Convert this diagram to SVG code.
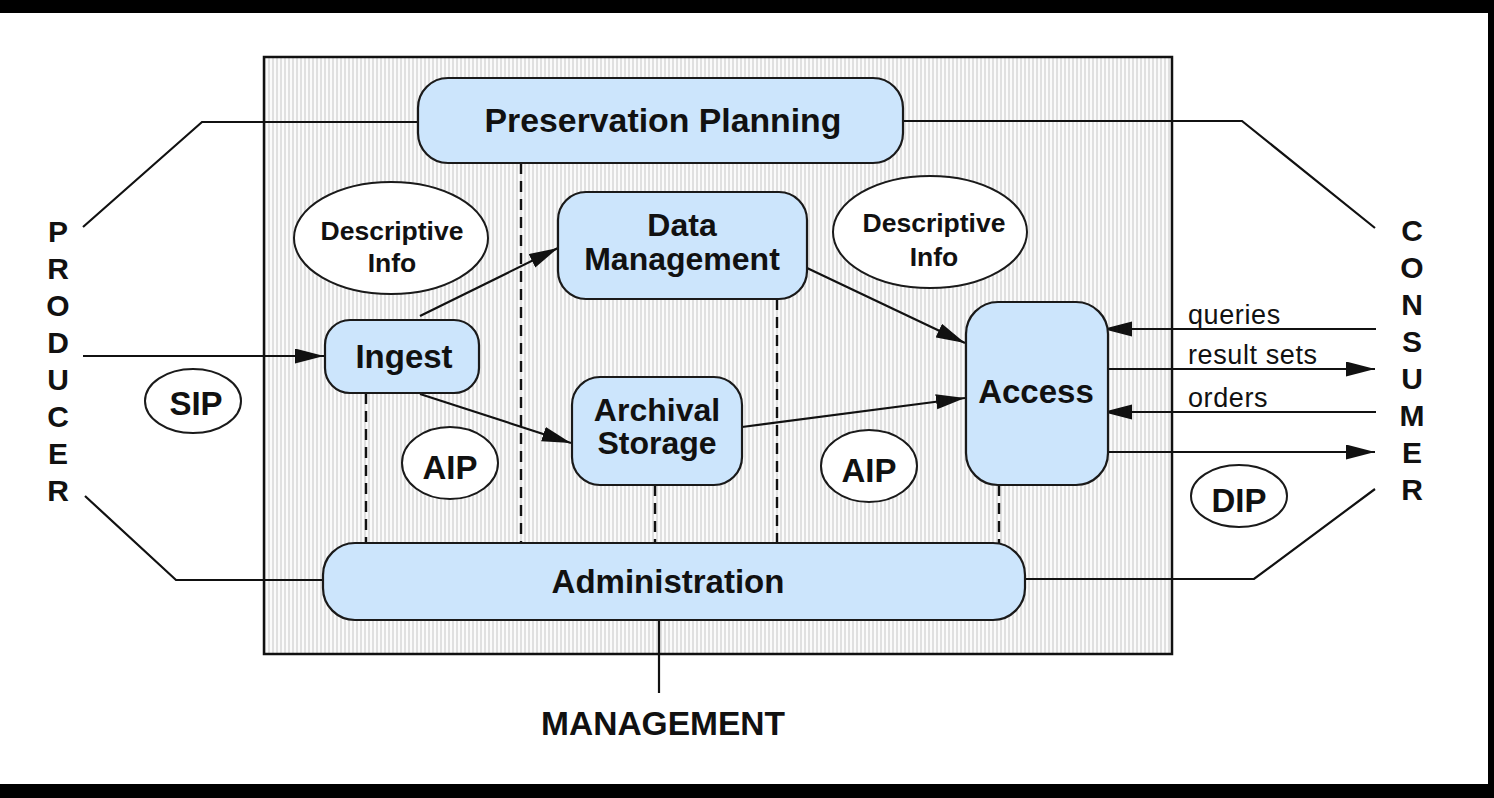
<svg xmlns="http://www.w3.org/2000/svg" width="1494" height="798" viewBox="0 0 1494 798">
<style>
.box{fill:#cce5fc;stroke:#1a1a1a;stroke-width:2.2}
.oval{fill:#ffffff;stroke:#1a1a1a;stroke-width:2}
.t{font-family:"Liberation Sans",Arial,sans-serif;font-weight:bold;fill:#111;text-anchor:middle}
.big{font-size:33px}
.mid{font-size:32px}
.small{font-size:26.5px}
.letter{font-size:30px}
.lab{font-family:"Liberation Sans",Arial,sans-serif;font-size:27px;fill:#111;letter-spacing:0.6px}
.ln{fill:none;stroke:#111;stroke-width:2.2}
.dash{fill:none;stroke:#111;stroke-width:2.4;stroke-dasharray:11 7}
</style>
<defs>
<pattern id="stripes" patternUnits="userSpaceOnUse" width="4" height="10">
<rect width="4" height="10" fill="#fbfbfb"/>
<rect x="0" width="2" height="10" fill="#e0e0e0"/>
</pattern>
<marker id="ah" markerUnits="userSpaceOnUse" markerWidth="30" markerHeight="16" refX="29" refY="7.5" orient="auto">
<path d="M0,0 L29,7.5 L0,15 z" fill="#111"/>
</marker>
</defs>
<rect width="1494" height="798" fill="#ffffff"/>
<g id="frame">
<rect x="0" y="0" width="1494" height="13" fill="#000"/>
<rect x="0" y="784" width="1494" height="14" fill="#000"/>
<rect x="1488" y="0" width="6" height="798" fill="#000"/>
</g>
<g id="system">
<rect x="264" y="57" width="908" height="597" fill="url(#stripes)" stroke="#111" stroke-width="2.5"/>
</g>
<g id="connectors">
<polyline class="ln" points="83,227 202,122 418,122"/>
<polyline class="ln" points="85,496 176,580 323,580"/>
<polyline class="ln" points="903,121 1242,121 1375,228"/>
<polyline class="ln" points="1025,579 1254,579 1375,489"/>
<line class="ln" x1="659" y1="620" x2="659" y2="693"/>
<line class="ln" x1="83" y1="356" x2="324" y2="356" marker-end="url(#ah)"/>
<line class="ln" x1="420" y1="316" x2="558" y2="248" marker-end="url(#ah)"/>
<line class="ln" x1="420" y1="394" x2="571" y2="443" marker-end="url(#ah)"/>
<line class="ln" x1="807" y1="268" x2="965" y2="343" marker-end="url(#ah)"/>
<line class="ln" x1="742" y1="427" x2="965" y2="398" marker-end="url(#ah)"/>
<line class="ln" x1="1376" y1="329" x2="1103" y2="329" marker-end="url(#ah)"/>
<line class="ln" x1="1108" y1="369" x2="1375" y2="369" marker-end="url(#ah)"/>
<line class="ln" x1="1376" y1="412" x2="1103" y2="412" marker-end="url(#ah)"/>
<line class="ln" x1="1108" y1="452" x2="1375" y2="452" marker-end="url(#ah)"/>
<line class="dash" x1="366" y1="393" x2="366" y2="543"/>
<line class="dash" x1="521" y1="163" x2="521" y2="543"/>
<line class="dash" x1="655" y1="485" x2="655" y2="543"/>
<line class="dash" x1="777" y1="299" x2="777" y2="543"/>
<line class="dash" x1="999" y1="485" x2="999" y2="543"/>
</g>
<g id="preservation-planning">
<rect class="box" x="418" y="78" width="485" height="85" rx="30"/>
<text class="t big" x="663" y="132" style="font-size:33.8px">Preservation Planning</text>
</g>
<g id="data-management">
<rect class="box" x="558" y="192" width="249" height="107" rx="28"/>
<text class="t mid" x="682" y="236">Data</text>
<text class="t mid" x="682" y="270">Management</text>
</g>
<g id="ingest">
<rect class="box" x="325" y="320" width="154" height="73" rx="25"/>
<text class="t big" x="404" y="368">Ingest</text>
</g>
<g id="archival-storage">
<rect class="box" x="572" y="377" width="170" height="108" rx="28"/>
<text class="t mid" x="657" y="421">Archival</text>
<text class="t mid" x="657" y="454">Storage</text>
</g>
<g id="access">
<rect class="box" x="966" y="302" width="142" height="183" rx="32"/>
<text class="t big" x="1036" y="403">Access</text>
</g>
<g id="administration">
<rect class="box" x="323" y="543" width="702" height="77" rx="32"/>
<text class="t big" x="668" y="593">Administration</text>
</g>
<g id="descriptive-info-left">
<ellipse class="oval" cx="391" cy="238" rx="97" ry="56"/>
<text class="t small" x="392" y="240">Descriptive</text>
<text class="t small" x="392" y="272">Info</text>
</g>
<g id="descriptive-info-right">
<ellipse class="oval" cx="930" cy="232" rx="97" ry="56"/>
<text class="t small" x="934" y="232">Descriptive</text>
<text class="t small" x="934" y="266">Info</text>
</g>
<g id="sip">
<ellipse class="oval" cx="193" cy="401" rx="48" ry="32"/>
<text class="t big" x="196" y="415">SIP</text>
</g>
<g id="aip-left">
<ellipse class="oval" cx="450" cy="463" rx="48" ry="36"/>
<text class="t big" x="450" y="479">AIP</text>
</g>
<g id="aip-right">
<ellipse class="oval" cx="869" cy="466" rx="48" ry="36"/>
<text class="t big" x="869" y="482">AIP</text>
</g>
<g id="dip">
<ellipse class="oval" cx="1239" cy="496" rx="48" ry="31"/>
<text class="t big" x="1239" y="512">DIP</text>
</g>
<g id="producer">
<text class="t letter" x="58" y="242">P</text>
<text class="t letter" x="58" y="279">R</text>
<text class="t letter" x="58" y="316">O</text>
<text class="t letter" x="58" y="353">D</text>
<text class="t letter" x="58" y="390">U</text>
<text class="t letter" x="58" y="427">C</text>
<text class="t letter" x="58" y="464">E</text>
<text class="t letter" x="58" y="501">R</text>
</g>
<g id="consumer">
<text class="t letter" x="1412" y="241">C</text>
<text class="t letter" x="1412" y="278">O</text>
<text class="t letter" x="1412" y="315">N</text>
<text class="t letter" x="1412" y="352">S</text>
<text class="t letter" x="1412" y="389">U</text>
<text class="t letter" x="1412" y="426">M</text>
<text class="t letter" x="1412" y="463">E</text>
<text class="t letter" x="1412" y="500">R</text>
</g>
<g id="labels">
<text class="lab" x="1188" y="324">queries</text>
<text class="lab" x="1188" y="364">result sets</text>
<text class="lab" x="1188" y="407">orders</text>
</g>
<g id="management">
<text class="t big" x="663" y="735" style="font-size:33.5px">MANAGEMENT</text>
</g>
</svg>
